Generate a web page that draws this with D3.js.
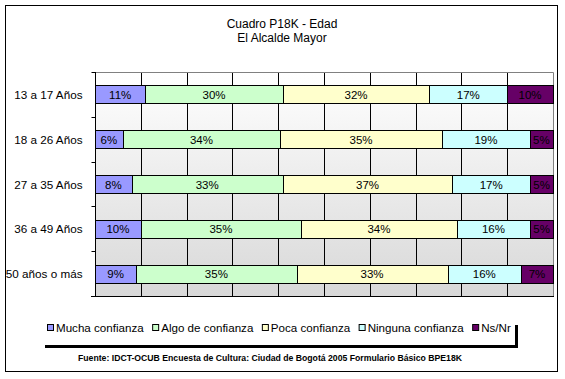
<!DOCTYPE html>
<html>
<head>
<meta charset="utf-8">
<script src="https://cdn.jsdelivr.net/npm/d3@7"></script>
<style>
  body { margin: 0; background: #fff; }
  text { font-family: Arial, 'Liberation Sans', sans-serif; }
</style>
</head>
<body>
<svg id="chart" width="565" height="379"></svg>
<script>
// Categories and series
const ageGroups = ['13 a 17 Años', '18 a 26 Años', '27 a 35 Años', '36 a 49 Años', '50 años o más'];
const seriesNames = ['Mucha confianza', 'Algo de confianza', 'Poca confianza', 'Ninguna confianza', 'Ns/Nr'];
const seriesColors = ['#9999FF', '#CCFFCC', '#FFFFCC', '#CCFFFF', '#660066'];

// Percent values per series (one value per age group)
const mucha = [11, 6, 8, 10, 9];
const algo = [30, 34, 33, 35, 35];
const poca = [32, 35, 37, 34, 33];
const ninguna = [17, 19, 17, 16, 16];
const nsnr = [10, 5, 5, 5, 7];

const xTicks = [0, 0.1, 0.2, 0.3, 0.4, 0.5, 0.6, 0.7, 0.8, 0.9, 1];

const svg = d3.select('#chart');

// Outer chart border
svg.append('rect')
    .attr('x', 5.5).attr('y', 5.5)
    .attr('width', 552).attr('height', 366)
    .attr('fill', '#fff')
    .attr('stroke', '#000');

// Title
svg.append('text')
    .attr('x', 282).attr('y', 28)
    .attr('text-anchor', 'middle')
    .style('font-size', '12px')
    .text('Cuadro P18K - Edad');
svg.append('text')
    .attr('x', 282).attr('y', 42)
    .attr('text-anchor', 'middle')
    .style('font-size', '12px')
    .text('El Alcalde Mayor');

// Plot area
const plot = { left: 95, right: 553, top: 72, bottom: 296 };

const xScale = d3.scaleLinear().domain([0, 1]).range([plot.left, plot.right]);
const yScale = d3.scaleBand().domain(ageGroups).range([plot.top, plot.bottom]).paddingInner(0.6).paddingOuter(0.3);
const yBand = d3.scaleBand().domain(ageGroups).range([plot.top, plot.bottom]);

// Gradient background
const defs = svg.append('defs');
const grad = defs.append('linearGradient')
    .attr('id', 'plotGrad')
    .attr('x1', 0).attr('y1', 0).attr('x2', 0).attr('y2', 1);
grad.append('stop').attr('offset', '0%').attr('stop-color', '#ffffff');
grad.append('stop').attr('offset', '100%').attr('stop-color', '#d8d8d8');

svg.append('rect')
    .attr('x', plot.left).attr('y', plot.top)
    .attr('width', plot.right - plot.left).attr('height', plot.bottom - plot.top)
    .attr('fill', 'url(#plotGrad)');

// Vertical gridlines
svg.append('g')
    .selectAll('line')
    .data(xTicks.slice(1, -1))
    .enter()
    .append('line')
    .attr('x1', d => Math.round(xScale(d)) + 0.5)
    .attr('x2', d => Math.round(xScale(d)) + 0.5)
    .attr('y1', plot.top)
    .attr('y2', plot.bottom)
    .attr('stroke', '#000');

// Plot border (top and right, gray)
svg.append('path')
    .attr('d', `M${plot.left},${plot.top + 0.5}H${plot.right + 0.5}V${plot.bottom}`)
    .attr('fill', 'none')
    .attr('stroke', '#808080');

// Build stacked data
const seriesValues = [mucha, algo, poca, ninguna, nsnr];
const rows = ageGroups.map((g, i) => {
    const row = { group: g };
    seriesNames.forEach((s, j) => { row[s] = seriesValues[j][i]; });
    return row;
});
const stacked = d3.stack().keys(seriesNames).offset(d3.stackOffsetExpand)(rows);

const layers = svg.append('g')
    .selectAll('g')
    .data(stacked)
    .enter()
    .append('g')
    .attr('fill', (d, i) => seriesColors[i]);

layers.selectAll('rect')
    .data(d => d)
    .enter()
    .append('rect')
    .attr('x', d => Math.round(xScale(d[0])) + 0.5)
    .attr('y', d => Math.round(yScale(d.data.group)) + 0.5)
    .attr('width', d => Math.round(xScale(d[1])) - Math.round(xScale(d[0])))
    .attr('height', Math.round(yScale.bandwidth()))
    .attr('stroke', '#000')
    .attr('stroke-width', 1);

// Bar value labels
layers.each(function (layer) {
    d3.select(this).selectAll('text')
        .data(layer)
        .enter()
        .append('text')
        .attr('x', d => (xScale(d[0]) + xScale(d[1])) / 2)
        .attr('y', d => yScale(d.data.group) + yScale.bandwidth() / 2 + 4.5)
        .attr('text-anchor', 'middle')
        .attr('fill', '#000')
        .style('font-size', '11.5px')
        .text(d => d.data[layer.key] + '%');
});

// Y axis
const yAxis = svg.append('g')
    .attr('transform', `translate(${plot.left + 0.5},0)`);
yAxis.append('line')
    .attr('y1', plot.top).attr('y2', plot.bottom + 1)
    .attr('stroke', '#000');
yAxis.selectAll('.tick')
    .data(ageGroups.slice(1))
    .enter()
    .append('line')
    .attr('x1', -4).attr('x2', 0)
    .attr('y1', d => Math.round(yBand(d)) + 0.5)
    .attr('y2', d => Math.round(yBand(d)) + 0.5)
    .attr('stroke', '#000');
yAxis.append('line')
    .attr('x1', -4).attr('x2', 0)
    .attr('y1', plot.top + 0.5).attr('y2', plot.top + 0.5)
    .attr('stroke', '#000');
yAxis.selectAll('.label')
    .data(ageGroups)
    .enter()
    .append('text')
    .attr('x', -13)
    .attr('y', d => yScale(d) + yScale.bandwidth() / 2 + 4.5)
    .attr('text-anchor', 'end')
    .style('font-size', '11.7px')
    .text(d => d);

// X axis line (bottom)
svg.append('line')
    .attr('x1', plot.left - 4).attr('x2', plot.right + 1)
    .attr('y1', plot.bottom + 0.5).attr('y2', plot.bottom + 0.5)
    .attr('stroke', '#000');

// Legend
const legend = svg.append('g');
legend.append('rect')
    .attr('x', 45).attr('y', 345)
    .attr('width', 473).attr('height', 3)
    .attr('fill', '#000');
legend.append('rect')
    .attr('x', 515).attr('y', 325)
    .attr('width', 3).attr('height', 23)
    .attr('fill', '#000');

let lx = 47;
seriesNames.forEach((name, i) => {
    legend.append('rect')
        .attr('x', lx + 0.5).attr('y', 324.5)
        .attr('width', 6).attr('height', 6)
        .attr('fill', seriesColors[i])
        .attr('stroke', '#000');
    const t = legend.append('text')
        .attr('x', lx + 9).attr('y', 332)
        .style('font-size', '11.6px')
        .text(name);
    lx += 9 + t.node().getComputedTextLength() + 8.5;
});

// Source note
svg.append('text')
    .attr('x', 78).attr('y', 361)
    .attr('textLength', 384)
    .attr('lengthAdjust', 'spacingAndGlyphs')
    .style('font-size', '8.5px')
    .style('font-weight', 'bold')
    .text('Fuente: IDCT-OCUB Encuesta de Cultura: Ciudad de Bogotá 2005 Formulario Básico BPE18K');
</script>
</body>
</html>
